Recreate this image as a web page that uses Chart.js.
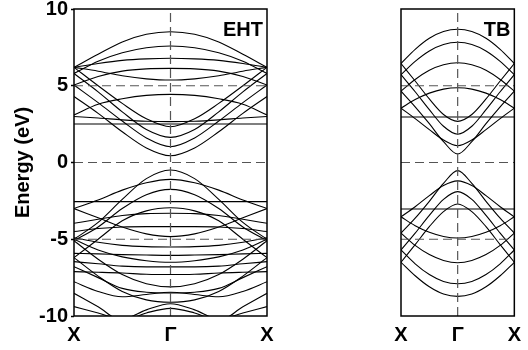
<!DOCTYPE html>
<html>
<head>
<meta charset="utf-8">
<script src="https://cdn.jsdelivr.net/npm/chart.js@4.4.1/dist/chart.umd.min.js"></script>
<style>
html,body{margin:0;padding:0;background:#fff;overflow:hidden}
#wrap{position:relative;width:528px;height:350px}
#wrap canvas{position:absolute;left:0;top:-20px}
</style>
</head>
<body>
<div id="wrap">
  <canvas id="eht" width="528" height="370"></canvas>
  <canvas id="tb" width="528" height="370"></canvas>
</div>
<script>
/* k path: X -> Γ (half), the other half is the mirror image */
const kHalf = [-1, -0.75, -0.5, -0.25, 0];
const kTicks = [-1, 0, 1];
const kLabels = ['X', 'Γ', 'X'];
const guideLevels = [5, 0, -5];

/* EHT bands, energies (eV) at X, 3/4, 1/2, 1/4, Γ */
const ehtConduction = [
  [6.2, 7.05, 7.85, 8.35, 8.52],
  [6.2, 5.0, 3.85, 2.85, 2.33],
  [5.8, 6.6, 7.15, 7.48, 7.59],
  [5.8, 4.6, 3.3, 2.15, 1.64],
  [6.2, 6.45, 6.65, 6.75, 6.79],
  [6.2, 5.95, 5.65, 5.45, 5.37],
  [5.05, 5.6, 5.95, 6.1, 6.13],
  [5.05, 3.9, 2.7, 1.6, 1.03],
  [3.1, 3.8, 4.15, 4.37, 4.44],
  [4.3, 3.2, 2.0, 0.95, 0.44],
  [2.51, 2.51, 2.51, 2.51, 2.51],
  [3.0, 2.9, 2.78, 2.69, 2.66]
];
const ehtValence = [
  [-5.0, -3.9, -2.4, -1.05, -0.49],
  [-3.0, -2.45, -1.8, -1.32, -1.10],
  [-2.55, -2.55, -2.55, -2.55, -2.55],
  [-3.0, -3.6, -4.2, -4.65, -4.83],
  [-5.0, -5.7, -6.15, -6.4, -6.5],
  [-5.1, -4.2, -3.0, -2.1, -1.75],
  [-5.1, -6.3, -7.3, -7.9, -8.1],
  [-6.2, -5.0, -3.8, -3.15, -2.95],
  [-6.2, -7.4, -8.4, -8.95, -9.1],
  [-3.96, -3.7, -3.45, -3.33, -3.31],
  [-4.5, -4.3, -4.2, -4.18, -4.18],
  [-4.9, -5.2, -5.4, -5.48, -5.5],
  [-5.92, -5.95, -6.0, -6.03, -6.05],
  [-6.46, -6.6, -6.75, -6.8, -6.8],
  [-7.11, -7.15, -7.2, -7.28, -7.3],
  [-6.79, -7.5, -8.2, -8.45, -8.5],
  [-7.77, -8.4, -8.75, -8.6, -8.45],
  [-8.52, -9.4, -10.3, -9.8, -9.5],
  [-9.39, -9.8, -10.2, -9.6, -9.2]
];

/* TB bands */
const tbConduction = [
  [6.45, 7.37, 8.09, 8.53, 8.68],
  [6.45, 5.31, 4.14, 3.13, 2.68],
  [5.72, 6.59, 7.27, 7.69, 7.83],
  [5.72, 4.61, 3.44, 2.36, 1.84],
  [4.65, 5.41, 6.01, 6.37, 6.50],
  [4.65, 3.63, 2.53, 1.36, 0.55],
  [3.54, 4.10, 4.52, 4.78, 4.87],
  [3.54, 2.86, 2.14, 1.46, 1.09],
  [2.96, 2.96, 2.96, 2.96, 2.96]
];
const tbValence = [
  [-6.5, -7.38, -8.1, -8.57, -8.72],
  [-6.5, -5.35, -4.18, -3.2, -2.7],
  [-5.7, -6.6, -7.3, -7.75, -7.9],
  [-5.7, -4.6, -3.45, -2.4, -1.9],
  [-4.6, -5.4, -6.0, -6.38, -6.53],
  [-4.6, -3.63, -2.53, -1.36, -0.53],
  [-3.54, -4.12, -4.55, -4.82, -4.92],
  [-3.54, -2.88, -2.16, -1.5, -1.2],
  [-3.03, -3.03, -3.03, -3.03, -3.03]
];

const FONT = '"Liberation Sans", Arial, Helvetica, sans-serif';
const kFull = kHalf.concat(kHalf.slice(0, -1).reverse().map(k => -k));

function mirror(h){ return h.concat(h.slice(0, -1).reverse()); }

function bandSets(bands){
  return bands.map(h => {
    const e = mirror(h);
    return {
      data: kFull.map((k, i) => ({x: k, y: e[i]})),
      borderColor: '#000', borderWidth: 1.1, pointRadius: 0,
      cubicInterpolationMode: 'monotone', fill: false
    };
  });
}

function guideSets(){
  const sets = guideLevels.map(v => ({
    data: [{x: -1, y: v}, {x: 1, y: v}],
    borderColor: '#555', borderWidth: 1.2, borderDash: [9, 5], pointRadius: 0
  }));
  sets.push({
    data: [{x: 0, y: -10}, {x: 0, y: 10}],
    borderColor: '#555', borderWidth: 1.2, borderDash: [9, 5], pointRadius: 0
  });
  return sets;
}

/* panel frame + corner label */
const framePlugin = {
  id: 'frame',
  afterDatasetsDraw(chart, args, opts){
    const {ctx, chartArea: a} = chart;
    ctx.save();
    ctx.strokeStyle = '#000';
    ctx.lineWidth = 1.5;
    ctx.strokeRect(a.left, a.top, a.right - a.left, a.bottom - a.top);
    if(opts.text){
      ctx.font = 'bold 20px ' + FONT;
      ctx.fillStyle = '#000';
      ctx.textAlign = 'right';
      ctx.textBaseline = 'alphabetic';
      ctx.fillText(opts.text, a.right - 4, a.top + 27);
    }
    ctx.restore();
  }
};

function makePanel(canvas, bands, label, showY, pad){
  return new Chart(canvas, {
    type: 'line',
    data: {datasets: guideSets().concat(bandSets(bands))},
    options: {
      responsive: false, animation: false, events: [],
      layout: {padding: pad},
      plugins: {legend: {display: false}, tooltip: {enabled: false}, frame: {text: label}},
      scales: {
        x: {
          type: 'linear', min: -1, max: 1,
          afterBuildTicks: s => { s.ticks = kTicks.map(v => ({value: v})); },
          afterFit: s => { s.height = 34; },
          grid: {display: false, drawTicks: false}, border: {display: false},
          ticks: {autoSkip: false, maxRotation: 0, padding: 7, color: '#000',
            font: {family: FONT, size: 20, weight: 'bold'},
            callback: (v, i) => kLabels[i]}
        },
        y: {
          min: -10, max: 10, display: showY,
          afterFit: s => { s.width = 74; },
          grid: {drawOnChartArea: false, drawTicks: true, tickLength: 3, tickColor: '#000', tickWidth: 1.5},
          border: {display: false},
          ticks: {stepSize: 5, padding: 3, color: '#000', font: {family: FONT, size: 20, weight: 'bold'}},
          title: {display: true, text: 'Energy (eV)', color: '#000',
            font: {family: FONT, size: 20, weight: 'bold'}, padding: {top: 11, bottom: 0}}
        }
      }
    },
    plugins: [framePlugin]
  });
}

makePanel(document.getElementById('eht'), ehtConduction.concat(ehtValence), 'EHT', true,
  {left: 0, right: 261, top: 29, bottom: 0});
makePanel(document.getElementById('tb'), tbConduction.concat(tbValence), 'TB', false,
  {left: 327, right: 9, top: 29, bottom: 0});
</script>
</body>
</html>
